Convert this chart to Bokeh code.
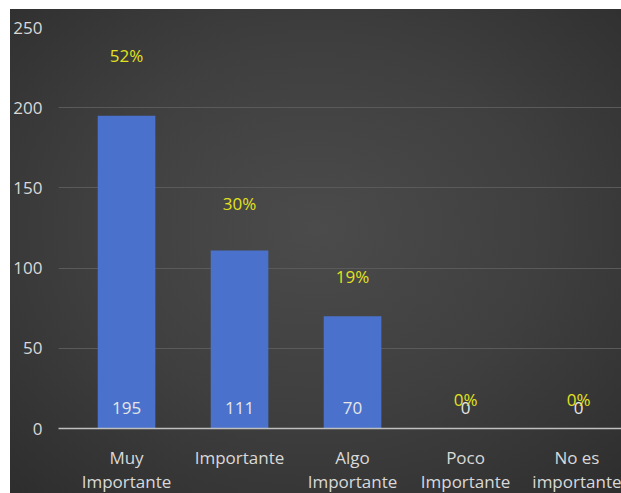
from bokeh.plotting import figure
from bokeh.models import ColumnDataSource, FixedTicker, Range1d
from bokeh.core.properties import value
from bokeh.embed import file_html
from bokeh.resources import INLINE

categories = ["Muy\nImportante", "Importante", "Algo\nImportante", "Poco\nImportante", "No es\nimportante"]
counts = [195, 111, 70, 0, 0]
y_ticks = [0, 50, 100, 150, 200, 250]

total = sum(counts)
pcts = [c / total for c in counts]
pct_labels = [f"{round(p * 100)}%" for p in pcts]
xs = list(range(len(categories)))

src = ColumnDataSource(dict(
    x=xs, count=counts, zero=[0] * len(xs),
    count_label=[str(c) for c in counts],
    pct=pcts, pct_label=pct_labels,
))

FONT = "Open Sans"

p = figure(frame_width=563, frame_height=401, output_backend="svg", toolbar_location=None,
           x_range=Range1d(-0.602, 4.38), y_range=Range1d(0, 250),
           min_border_left=48, min_border_right=0, min_border_top=18, min_border_bottom=65)
p.margin = (9, 0, 0, 10)
p.styles = {"background": "radial-gradient(ellipse 75% 75% at 50% 45%, #4b4b4b 0%, #3f3f3f 50%, #2d2d2d 100%)"}
p.background_fill_alpha = 0
p.border_fill_alpha = 0
p.outline_line_color = None

p.extra_y_ranges = {"pct": Range1d(-0.0437, 0.561)}

p.vbar(x="x", top="count", width=0.51, source=src, fill_color="#4a72cc", line_color=None)

p.text(x="x", y="zero", text="count_label", source=src, text_align="center",
       text_baseline="middle", y_offset=-21, text_color="#e6e6e6",
       text_font=value(FONT), text_font_size="17px")
p.text(x="x", y="pct", text="pct_label", source=src, y_range_name="pct",
       text_align="center", text_baseline="middle", text_color="#e2e21e",
       text_font=value(FONT), text_font_size="17px")

p.xgrid.grid_line_color = None
p.ygrid.grid_line_color = "#5a5a5a"
p.ygrid.grid_line_width = 1
p.ygrid.ticker = FixedTicker(ticks=y_ticks)

p.yaxis.ticker = FixedTicker(ticks=y_ticks)
p.yaxis.axis_line_color = None
p.yaxis.major_tick_line_color = None
p.yaxis.minor_tick_line_color = None
p.yaxis.major_label_standoff = 10
p.yaxis.major_label_text_color = "#d9d9d9"
p.yaxis.major_label_text_font = FONT
p.yaxis.major_label_text_font_size = "17px"

p.xaxis.ticker = FixedTicker(ticks=xs)
p.xaxis.major_label_overrides = {i: c for i, c in zip(xs, categories)}
p.xaxis.axis_line_color = "#bfbfbf"
p.xaxis.axis_line_width = 1.5
p.xaxis.major_tick_line_color = None
p.xaxis.minor_tick_line_color = None
p.xaxis.major_label_standoff = 11
p.xaxis.major_label_text_color = "#d9d9d9"
p.xaxis.major_label_text_font = FONT
p.xaxis.major_label_text_font_size = "17px"
p.xaxis.major_label_text_line_height = 1.05

open("out.html", "w").write(file_html(p, INLINE))
